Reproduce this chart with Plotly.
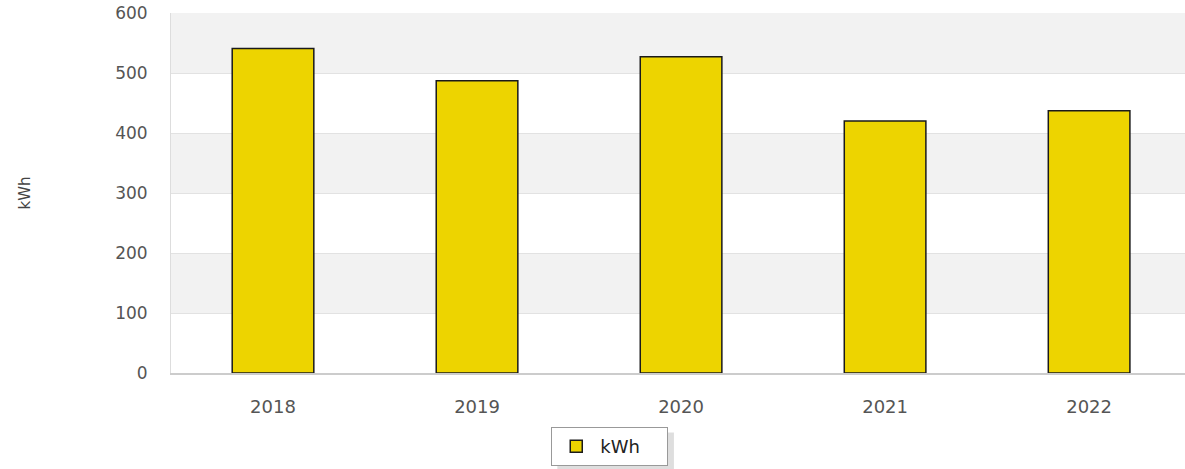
import plotly.graph_objects as go

years = ["2018", "2019", "2020", "2021", "2022"]
kwh = [541, 487, 527, 420, 437]
y_ticks = [0, 100, 200, 300, 400, 500, 600]

BAR_COLOR = "#EDD400"
FONT = "DejaVu Sans"

fig = go.Figure()
fig.add_trace(go.Bar(
    x=years, y=kwh, name="kWh", width=0.4,
    marker=dict(color=BAR_COLOR, line=dict(color="#1a1a1a", width=1.5)),
))

# alternating horizontal bands behind the bars
shapes = []
for lo in y_ticks[1:-1:2]:
    shapes.append(dict(type="rect", xref="paper", yref="y", x0=0, x1=1,
                       y0=lo, y1=lo + 100, fillcolor="#f2f2f2",
                       line=dict(width=0), layer="below"))
# legend drop shadow
shapes.append(dict(type="rect", xref="paper", yref="paper",
                   x0=0.381, x1=0.496, y0=-0.272, y1=-0.165,
                   fillcolor="rgba(0,0,0,0.13)", line=dict(width=0)))

fig.update_layout(
    width=1185, height=469,
    margin=dict(l=171, r=0, t=13, b=96),
    paper_bgcolor="white", plot_bgcolor="white",
    font=dict(family=FONT, size=16, color="#444444"),
    bargap=0.6,
    showlegend=True,
    shapes=shapes,
    legend=dict(
        x=0.375, y=-0.15, xanchor="left", yanchor="top",
        orientation="h", bgcolor="white", bordercolor="#999999",
        borderwidth=1, font=dict(family=FONT, size=18, color="#222222"),
        itemwidth=38, entrywidth=62, entrywidthmode="pixels",
    ),
    xaxis=dict(
        range=[-0.5, 4.47], showgrid=False, showline=True,
        linecolor="#cccccc", linewidth=1.5, ticks="", ticklabelstandoff=17,
        tickfont=dict(size=18, color="#555555"),
    ),
    yaxis=dict(
        range=[0, 600], tickvals=y_ticks, showgrid=True,
        gridcolor="#e2e2e2", gridwidth=1, showline=True,
        linecolor="#dddddd", linewidth=1, zeroline=False,
        ticks="", ticklabelstandoff=19,
        tickfont=dict(size=17, color="#555555"),
        title=dict(text="kWh", standoff=80, font=dict(size=15, color="#444444")),
    ),
)

fig.write_html("out.html")
